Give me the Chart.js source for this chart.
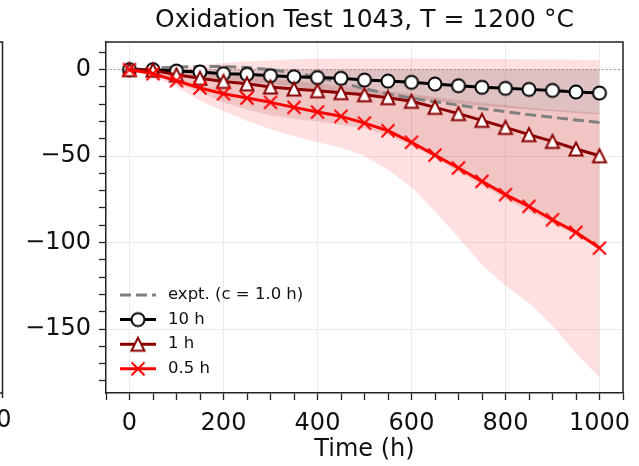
<!DOCTYPE html>
<html>
<head>
<meta charset="utf-8">
<script src="https://cdn.jsdelivr.net/npm/chart.js@4.4.1/dist/chart.umd.min.js"></script>
<style>
  html, body { margin: 0; padding: 0; background: #fff; }
  #wrap { width: 639px; height: 466px; }
</style>
</head>
<body>
<div id="wrap"><canvas id="oxChart" width="639" height="466"></canvas></div>
<script>
// time axis (h)
const hours = [0, 50, 100, 150, 200, 250, 300, 350, 400, 450, 500, 550, 600, 650, 700, 750, 800, 850, 900, 950, 1000];

// experiment and model curves
const expt  = [0, 0.8, 1.5, 1.8, 1.8, 1.2, 0, -1.8, -4.2, -7.5, -11, -14, -16.5, -18.5, -20.5, -22.5, -24.3, -26, -27.6, -29.1, -30.5];
const wc10h = [0, 0, -0.8, -1.3, -2.3, -2.7, -3.5, -4.1, -4.6, -5.0, -6.0, -6.6, -7.3, -8.3, -9.3, -10.2, -10.8, -11.4, -12.0, -12.9, -13.5];
const wc1h  = [0, -0.3, -3, -5, -6.8, -8.2, -10, -11.2, -12.2, -13.3, -14.5, -16.2, -18.3, -21.8, -25.4, -29.3, -33.4, -37.6, -41.5, -45.9, -49.8];
const wc05h = [0, -2.3, -6.4, -10.6, -13.9, -16.4, -18.9, -21.8, -24.5, -27, -30.9, -35.3, -42, -49.4, -56.9, -64.6, -72.3, -79.1, -86.8, -94.1, -103.2];

// spread bands (upper / lower)
const band10hHi = [0, 0, 0, 0, 0, 0, 0, 0, 0, 0, 0, 0, 0, 0, 0, 0, 0, 0, 0, 0, 0];
const band10hLo = [0, -1, -2.5, -4, -5.5, -7, -8.5, -10, -11.5, -13, -14, -15.5, -17, -18, -19.5, -21, -22, -23, -24, -25, -26];
const band1hHi  = [0, 0, -1, -2, -3, -4, -5, -6.5, -8, -9.5, -11, -12.5, -14, -16, -17.5, -19, -20.5, -22, -23, -24, -25];
const band1hLo  = [0, -3.5, -8, -13, -19, -23, -26.5, -28.5, -30, -32, -34, -38, -44, -51, -59, -67, -75, -82, -89, -96, -103];
const band05Hi  = [0, 0.3, 1, 2.5, 3.8, 4.8, 5.5, 6, 6.3, 6.5, 6.5, 6.5, 6.5, 6.4, 6.3, 6.2, 6.1, 6, 5.9, 5.8, 5.6];
const band05Lo  = [0, -4, -10, -18, -24, -29.5, -34.5, -38.5, -42, -45, -50, -58, -68, -82, -97, -113, -125, -135, -148, -164, -178];

const xTicksMajor = [0, 200, 400, 600, 800, 1000];
const yTicksMajor = [0, -50, -100, -150];

const pts = arr => hours.map((h, i) => ({ x: h, y: arr[i] }));

function marker(size, draw) {
    const c = document.createElement('canvas');
    c.width = size; c.height = size;
    const g = c.getContext('2d');
    draw(g, size / 2);
    return c;
}
const circleMk = marker(18, (g, c) => {
    g.beginPath(); g.arc(c, c, 6.5, 0, Math.PI * 2);
    g.fillStyle = '#fff'; g.fill();
    g.lineWidth = 2; g.strokeStyle = '#000'; g.stroke();
});
const triMk = marker(20, (g, c) => {
    const h = 6.5;
    g.beginPath(); g.moveTo(c, c - h); g.lineTo(c - h, c + h); g.lineTo(c + h, c + h); g.closePath();
    g.fillStyle = '#fff'; g.fill();
    g.lineWidth = 2; g.strokeStyle = '#8b0000'; g.stroke();
});
const crossMk = marker(18, (g, c) => {
    const h = 6.5;
    g.beginPath();
    g.moveTo(c - h, c - h); g.lineTo(c + h, c + h);
    g.moveTo(c + h, c - h); g.lineTo(c - h, c + h);
    g.lineWidth = 2; g.strokeStyle = '#ff0000'; g.stroke();
});

function band(lo, hi, color) {
    return [
        { data: pts(lo), borderWidth: 0, borderColor: 'transparent', pointRadius: 0, fill: false, order: 10 },
        { data: pts(hi), borderWidth: 0, borderColor: 'transparent', pointRadius: 0, fill: '-1', backgroundColor: color, order: 10 }
    ];
}

const zeroLine = {
    id: 'zeroLine',
    beforeDatasetsDraw(chart) {
        const { ctx, chartArea, scales } = chart;
        const y = scales.y.getPixelForValue(0);
        ctx.save();
        ctx.strokeStyle = 'rgba(110,110,110,0.8)';
        ctx.lineWidth = 1;
        ctx.setLineDash([1.5, 2.5]);
        ctx.beginPath(); ctx.moveTo(chartArea.left, y); ctx.lineTo(chartArea.right, y); ctx.stroke();
        ctx.restore();
    }
};

const decor = {
    id: 'decor',
    afterDraw(chart) {
        const { ctx, chartArea } = chart;
        ctx.save();
        // top and right spines
        ctx.strokeStyle = '#222';
        ctx.lineWidth = 1.5;
        ctx.beginPath();
        ctx.moveTo(chartArea.left, chartArea.top); ctx.lineTo(chartArea.right, chartArea.top);
        ctx.lineTo(chartArea.right, chartArea.bottom);
        ctx.stroke();
        // edge of the neighbouring panel
        ctx.beginPath();
        ctx.moveTo(0, chartArea.top); ctx.lineTo(2.5, chartArea.top);
        ctx.lineTo(2.5, chartArea.bottom); ctx.lineTo(0, chartArea.bottom);
        ctx.moveTo(2.5, chartArea.bottom); ctx.lineTo(2.5, chartArea.bottom + 5);
        ctx.stroke();
        ctx.fillStyle = '#111';
        ctx.font = '24px "DejaVu Sans"';
        ctx.textAlign = 'right'; ctx.textBaseline = 'top';
        ctx.fillText('1000', 11.5, chartArea.bottom + 16);
        // title
        ctx.font = '25px "DejaVu Sans"';
        ctx.textAlign = 'center'; ctx.textBaseline = 'middle';
        ctx.fillText('Oxidation Test 1043, T = 1200 °C', (chartArea.left + chartArea.right) / 2, 20);
        // legend
        const items = chart.data.datasets.filter(d => d.label);
        ctx.font = '16.5px "DejaVu Sans"';
        ctx.textAlign = 'left';
        items.forEach((d, i) => {
            const y = chartArea.bottom - 98 + i * 24.6;
            const x0 = chartArea.left + 14, x1 = chartArea.left + 50;
            ctx.strokeStyle = d.borderColor;
            ctx.lineWidth = d.borderWidth;
            ctx.setLineDash(d.borderDash || []);
            ctx.beginPath(); ctx.moveTo(x0, y); ctx.lineTo(x1, y); ctx.stroke();
            ctx.setLineDash([]);
            if (d.pointStyle instanceof HTMLCanvasElement) {
                const m = d.pointStyle;
                ctx.drawImage(m, (x0 + x1) / 2 - m.width / 2, y - m.height / 2);
            }
            ctx.fillStyle = '#111';
            ctx.fillText(d.label, chartArea.left + 62, y);
        });
        ctx.restore();
    }
};

const ctx = document.getElementById('oxChart').getContext('2d');
Chart.defaults.font.family = '"DejaVu Sans", sans-serif';
Chart.defaults.color = '#111';

const myChart = new Chart(ctx, {
    type: 'line',
    data: {
        datasets: [
            { label: 'expt. (c = 1.0 h)', data: pts(expt), borderColor: '#808080', borderWidth: 3,
              borderDash: [11, 5], pointRadius: 0, fill: false, order: 4 },
            { label: '10 h', data: pts(wc10h), borderColor: '#000000', borderWidth: 3,
              pointStyle: circleMk, pointRadius: 6, fill: false, order: 3 },
            { label: '1 h', data: pts(wc1h), borderColor: '#8b0000', borderWidth: 3,
              pointStyle: triMk, pointRadius: 6, fill: false, order: 2 },
            { label: '0.5 h', data: pts(wc05h), borderColor: '#ff0000', borderWidth: 3,
              pointStyle: crossMk, pointRadius: 6, fill: false, order: 1 },
            ...band(band05Lo, band05Hi, 'rgba(255,0,0,0.12)'),
            ...band(band1hLo, band1hHi, 'rgba(139,0,0,0.12)'),
            ...band(band10hLo, band10hHi, 'rgba(0,0,0,0.14)')
        ]
    },
    options: {
        responsive: false,
        animation: false,
        events: [],
        layout: { padding: { left: 0, top: 42, right: 16, bottom: 0 } },
        elements: { line: { tension: 0, borderJoinStyle: 'round' } },
        plugins: { legend: { display: false }, title: { display: false }, tooltip: { enabled: false } },
        scales: {
            x: {
                type: 'linear', min: -50, max: 1050,
                afterFit: s => { s.height = 73; },
                ticks: {
                    stepSize: 50, autoSkip: false, maxRotation: 0, padding: 9,
                    font: { size: 24 }, color: '#111',
                    callback: v => xTicksMajor.includes(v) ? String(v) : ''
                },
                grid: {
                    color: c => (c.tick && xTicksMajor.includes(c.tick.value)) ? '#ebebeb' : 'transparent',
                    tickColor: '#222', tickLength: 7, tickWidth: 1.3
                },
                border: { color: '#222', width: 1.5 },
                title: { display: true, text: 'Time (h)', font: { size: 24 }, color: '#111', padding: { top: 0, bottom: 2 } }
            },
            y: {
                min: -187, max: 16,
                afterFit: s => { s.width = 106; },
                ticks: {
                    stepSize: 10, autoSkip: false, includeBounds: false, padding: 8,
                    font: { size: 24 }, color: '#111',
                    callback: v => yTicksMajor.includes(v) ? String(v).replace('-', '\u2212') : ''
                },
                grid: {
                    color: c => (c.tick && yTicksMajor.includes(c.tick.value)) ? '#ebebeb' : 'transparent',
                    tickColor: '#222', tickLength: 7, tickWidth: 1.3
                },
                border: { color: '#222', width: 1.5 }
            }
        }
    },
    plugins: [zeroLine, decor]
});
</script>
</body>
</html>
